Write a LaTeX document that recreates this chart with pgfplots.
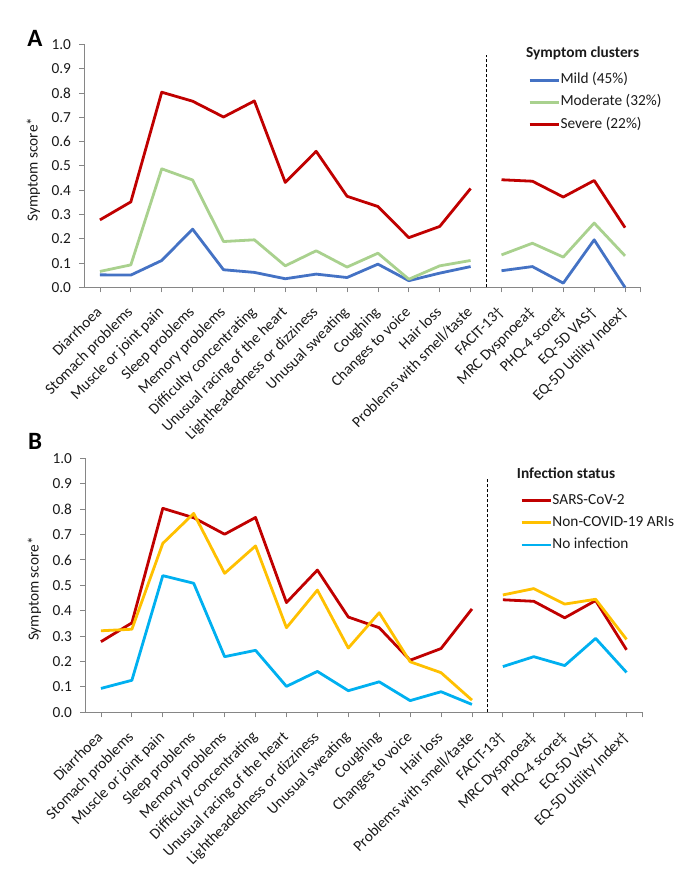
\documentclass[border=0pt]{standalone}
\usepackage{pgfplots}
\usepackage{pgfplotstable}
\pgfplotsset{compat=1.18}
\usepackage{fontspec}
\setmainfont{Carlito}
\definecolor{mild}{HTML}{4472C4}
\definecolor{moderate}{HTML}{A9D18E}
\definecolor{severe}{HTML}{C00000}
\definecolor{noncovid}{HTML}{FFC000}
\definecolor{noinf}{HTML}{00B0F0}
\definecolor{axisgray}{HTML}{868686}
\definecolor{txt}{HTML}{1A1A1A}

\pgfplotstableread{
x     mild  moderate severe noncovid noinf
0     0.052 0.066 0.278 0.321 0.094
1     0.051 0.093 0.352 0.327 0.126
2     0.111 0.488 0.803 0.665 0.538
3     0.240 0.442 0.766 0.783 0.508
4     0.073 0.189 0.701 0.547 0.219
5     0.062 0.196 0.767 0.655 0.244
6     0.036 0.089 0.432 0.333 0.102
7     0.055 0.151 0.560 0.481 0.161
8     0.041 0.084 0.375 0.253 0.085
9     0.096 0.141 0.333 0.392 0.120
10    0.028 0.034 0.205 0.199 0.046
11    0.059 0.089 0.251 0.156 0.081
12    0.086 0.111 0.407 0.048 0.031
12.5  nan   nan   nan   nan   nan
13    0.069 0.134 0.443 0.462 0.180
14    0.086 0.182 0.437 0.487 0.219
15    0.018 0.125 0.372 0.426 0.184
16    0.196 0.265 0.440 0.445 0.291
17    0.000 0.130 0.246 0.287 0.157
}\data

\newcommand{\fs}{\fontsize{15.4}{18}\selectfont}

\pgfplotsset{
  common/.style={
    scale only axis,
    xmin=-0.5, xmax=17.5, ymin=0, ymax=1,
    axis x line*=bottom, axis y line*=left,
    axis line style={draw=axisgray, line width=0.8bp},
    tick style={draw=axisgray, line width=0.8bp},
    tick align=outside, major tick length=5bp,
    xtick={0,...,17},
    xticklabels={Diarrhoea,Stomach problems,Muscle or joint pain,Sleep problems,Memory problems,Difficulty concentrating,Unusual racing of the heart,Lightheadedness or dizziness,Unusual sweating,Coughing,Changes to voice,Hair loss,Problems with smell/taste,FACIT-13†,MRC Dyspnoea‡,PHQ-4 score‡,EQ-5D VAS†,EQ-5D Utility Index†},
    extra x ticks={17.5}, extra x tick labels={},
    ytick={0,0.1,...,1.0},
    yticklabel style={xshift=-5bp, /pgf/number format/.cd, fixed, fixed zerofill, precision=1},
    /pgf/number format/assume math mode=true,
    ticklabel style={font=\fs, text=txt},
    xticklabel style={xshift=-5bp, yshift=-8bp, rotate=45, anchor=north east},
    ylabel={Symptom score*},
    ylabel style={font=\fs, text=txt, at={(axis description cs:-0.092,0.485)}, anchor=center},
    unbounded coords=jump,
    clip=false,
    legend cell align=left,
    legend style={draw=none, fill=none, anchor=north west, inner sep=0pt,
      font=\fs, text=txt, row sep=5.6bp,
      nodes={inner xsep=0.5bp, inner ysep=1bp, text height=11bp, text depth=3.5bp}},
    legend image code/.code={\draw[#1] (0bp,0bp) -- (29bp,0bp);},
    every axis plot/.append style={line width=2.8bp, mark=none, line join=round},
  }
}

\begin{document}
\begin{tikzpicture}
\path[use as bounding box] (0,0) rectangle (694bp,877bp);

% Panel A
\begin{axis}[common, at={(84.5bp,589.5bp)}, anchor=south west,
  width=556bp, height=243.2bp,
  legend style={at={(rel axis cs:0.7977,0.8875)}}]
  \addplot[mild] table[x=x, y=mild] {\data};
  \addlegendentry{Mild (45\%)}
  \addplot[moderate] table[x=x, y=moderate] {\data};
  \addlegendentry{Moderate (32\%)}
  \addplot[severe] table[x=x, y=severe] {\data};
  \addlegendentry{Severe (22\%)}
  \addplot[black, line width=0.9bp, dash pattern=on 3bp off 2bp, forget plot] coordinates {(12.5,0) (12.5,0.956)};
  \node[anchor=west, inner sep=0pt, font=\fs\bfseries, text=txt] at (rel axis cs:0.794,0.964) {Symptom clusters};
  \node[font=\fontsize{25}{28}\selectfont\bfseries] at (rel axis cs:-0.089,1.024) {A};
\end{axis}

% Panel B
\begin{axis}[common, at={(85.5bp,164.7bp)}, anchor=south west,
  width=556.5bp, height=254bp,
  legend style={at={(rel axis cs:0.7807,0.866)}}]
  \addplot[severe] table[x=x, y=severe] {\data};
  \addlegendentry{SARS-CoV-2}
  \addplot[noncovid] table[x=x, y=noncovid] {\data};
  \addlegendentry{Non-COVID-19 ARIs}
  \addplot[noinf] table[x=x, y=noinf] {\data};
  \addlegendentry{No infection}
  \addplot[black, line width=0.9bp, dash pattern=on 3bp off 2bp, forget plot] coordinates {(12.5,0) (12.5,0.924)};
  \node[anchor=west, inner sep=0pt, font=\fs\bfseries, text=txt] at (rel axis cs:0.775,0.942) {Infection status};
  \node[font=\fontsize{25}{28}\selectfont\bfseries] at (rel axis cs:-0.0907,1.066) {B};
\end{axis}
\end{tikzpicture}
\end{document}
